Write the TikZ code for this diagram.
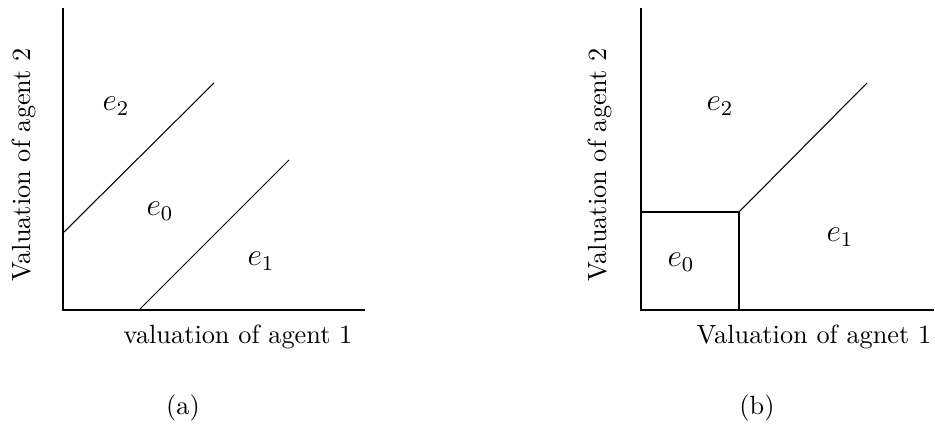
\documentclass[tikz,border=0pt]{standalone}
\begin{document}
\begin{tikzpicture}[x=0.38pt,y=-0.38pt,
  axis/.style={line width=0.8pt},
  bound/.style={line width=0.4pt},
  lbl/.style={inner sep=0pt,font=\normalsize},
  reg/.style={inner sep=0pt,font=\large}]
\useasboundingbox (0,0) rectangle (935,437);
% panel (a)
\coordinate (ay) at (63,8);
\coordinate (ao) at (63,310);
\coordinate (ax) at (365,310);
\draw[axis] (ay) -- (ao) -- (ax);
\coordinate (a1s) at (63,233);
\coordinate (a1e) at (214,83);
\coordinate (a2s) at (139,310);
\coordinate (a2e) at (289,160);
\draw[bound] (a1s) -- (a1e);
\draw[bound] (a2s) -- (a2e);
\node[reg] (ae2) at (116,106) {$e_2$};
\node[reg] (ae0) at (160,211) {$e_0$};
\node[reg] (ae1) at (261,261) {$e_1$};
\node[lbl] (axl) at (238,337) {valuation of agent 1};
\node[lbl,rotate=90] (ayl) at (24,165) {Valuation of agent 2};
\node[lbl] (acap) at (183,408) {(a)};
% panel (b)
\coordinate (by) at (641,8);
\coordinate (bo) at (641,310);
\coordinate (bx) at (934,310);
\draw[axis] (by) -- (bo) -- (bx);
\coordinate (bl) at (641,212);
\coordinate (bc) at (739,212);
\coordinate (bb) at (739,310);
\coordinate (bd) at (867,83);
\draw[axis] (bl) -- (bc) -- (bb);
\draw[bound] (bc) -- (bd);
\node[reg] (be2) at (720,106) {$e_2$};
\node[reg] (be0) at (681,262) {$e_0$};
\node[reg] (be1) at (840,237) {$e_1$};
\node[lbl] (bxl) at (814,337) {Valuation of agnet 1};
\node[lbl,rotate=90] (byl) at (600,165) {Valuation of agent 2};
\node[lbl] (bcap) at (757,408) {(b)};
\end{tikzpicture}
\end{document}
